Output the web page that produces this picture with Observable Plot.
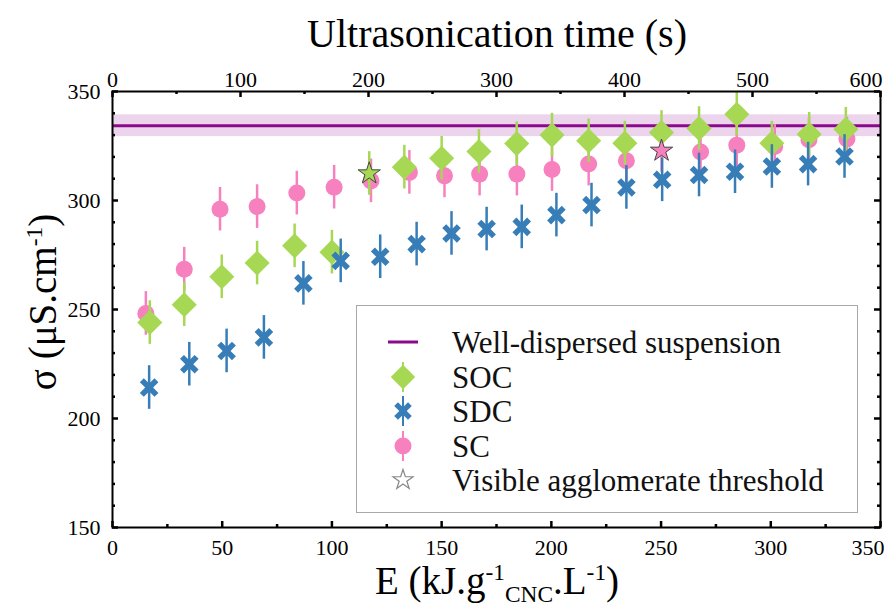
<!DOCTYPE html>
<html><head><meta charset="utf-8">
<script src="https://cdn.jsdelivr.net/npm/d3@7"></script>
<script src="https://cdn.jsdelivr.net/npm/@observablehq/plot@0.6"></script>
<style>
body{margin:0;background:#fff;}
#wrap{position:relative;width:889px;height:607px;font-family:"Liberation Serif","Times New Roman",serif;color:#000;overflow:hidden;}
.lab{position:absolute;white-space:nowrap;font-size:39px;line-height:1;transform:translate(-50%,-50%);}
.lab sup,.lab sub{font-size:0.6em;line-height:0;}
#legend{position:absolute;left:356px;top:305px;width:502px;height:208px;border:1.5px solid #a8a8a8;box-sizing:border-box;}
.ltxt{position:absolute;left:452px;font-size:31px;line-height:1;white-space:nowrap;transform:translateY(-50%);color:#111;}
</style></head>
<body><div id="wrap"></div>
<script>
// ---------- data ----------
const E_SOC = [17.0, 32.7, 49.8, 65.9, 83.0, 100.0, 117.0, 133.0, 150.0, 167.0, 184.2, 200.3, 217.0, 233.5, 250.2, 267.3, 284.5, 300.5, 317.5, 334.2];
const SOC   = [244.0, 252.2, 265.0, 271.3, 279.2, 276.3, 312.4, 315.3, 319.4, 322.5, 326.1, 330.0, 327.4, 326.3, 331.2, 333.0, 339.6, 326.3, 330.4, 332.7];
const ERR_SOC = [10, 10, 10, 10, 10, 10, 10, 10, 10, 10, 10, 10, 10, 10, 10, 10, 10, 10, 10, 10];

const E_SDC = [16.7, 35.0, 52.0, 69.0, 87.0, 104.0, 122.0, 138.6, 154.5, 170.5, 186.5, 202.3, 218.3, 234.2, 250.5, 267.3, 283.7, 300.5, 317.0, 333.6];
const SDC   = [214.2, 224.9, 231.0, 237.2, 262.0, 272.3, 274.2, 280.0, 284.9, 286.9, 287.9, 293.3, 297.9, 306.0, 309.5, 311.7, 313.2, 315.6, 316.7, 320.2];
const ERR_SDC = [10, 10, 10, 10, 10, 10, 10, 10, 10, 10, 10, 10, 10, 10, 10, 10, 10, 10, 10, 10];

const E_SC = [15.2, 32.7, 49.0, 65.9, 84.0, 101.0, 117.8, 135.3, 151.3, 167.3, 184.3, 200.3, 217.0, 234.2, 250.2, 268.0, 284.5, 301.8, 317.4, 334.7];
const SC   = [248.2, 268.5, 296.0, 297.2, 303.4, 306.1, 309.0, 312.9, 311.3, 312.1, 312.1, 314.2, 316.7, 318.2, 322.8, 322.3, 325.4, 324.8, 327.9, 328.2];
const ERR_SC = [10, 10, 10, 10, 10, 10, 10, 10, 10, 10, 10, 10, 10, 10, 10, 10, 10, 10, 10, 10];

// visible agglomerate threshold points
const STAR_SERIES = ["SOC", "SC"];
const STAR_E      = [117.0, 250.2];
const STAR_V      = [312.4, 322.8];

// well-dispersed suspension reference (mean ± sd)
const WELL_MEAN = 334.3;
const WELL_SD = 5.0;

// axes
const X_TICKS = [0, 50, 100, 150, 200, 250, 300, 350];
const Y_TICKS = [150, 200, 250, 300, 350];
const TIME_TICKS = [0, 100, 200, 300, 400, 500, 600];
const TIME_MINOR = [50, 150, 250, 350, 450, 550];
const X_MINOR = [25, 75, 125, 175, 225, 275, 325];
const Y_MINOR = [160,170,180,190,210,220,230,240,260,270,280,290,310,320,330,340];
const X_DOMAIN = [0, 350], Y_DOMAIN = [150, 350], TIME_MAX = 600;

// ---------- style ----------
const COL = {SOC: "#a6d854", SDC: "#377eb8", SC: "#f781bf"};
const PURPLE = "#8b0a8b", BAND = "#ecd4ec";
const W = 889, H = 607, ML = 112, MR = 9, MT = 91, MB = 80;
const PW = W - ML - MR, PH = H - MT - MB;
const toE = t => t * X_DOMAIN[1] / TIME_MAX;
const fmtTime = d => String(Math.round(d * TIME_MAX / X_DOMAIN[1]));

const isStar = (name, e) => STAR_SERIES.some((s, j) => s === name && STAR_E[j] === e);
const rows = (name, E, V, Er) => E.map((e, i) => ({series: name, E: e, v: V[i], err: Er[i], star: isStar(name, e)}));
const socRows = rows("SOC", E_SOC, SOC, ERR_SOC);
const sdcRows = rows("SDC", E_SDC, SDC, ERR_SDC);
const scRows = rows("SC", E_SC, SC, ERR_SC);
const starRows = STAR_SERIES.map((s, j) => ({series: s, E: STAR_E[j], v: STAR_V[j]}));

// filled heavy "X" symbol
const symbolHeavyX = {
  draw(ctx, size) {
    const r = Math.sqrt(size / Math.PI), L = 1.15 * r, a = 0.31 * r;
    const pts = [[a,L],[a,a],[L,a],[L,-a],[a,-a],[a,-L],[-a,-L],[-a,-a],[-L,-a],[-L,a],[-a,a],[-a,L]]
      .map(([x, y]) => [(x - y) / Math.SQRT2, (x + y) / Math.SQRT2]);
    ctx.moveTo(pts[0][0], pts[0][1]);
    for (let i = 1; i < pts.length; i++) ctx.lineTo(pts[i][0], pts[i][1]);
    ctx.closePath();
  }
};

const bars = (data, c) => Plot.ruleX(data, {x: "E", y1: d => d.v - d.err, y2: d => d.v + d.err, stroke: c, strokeWidth: 2.5});

const plot = Plot.plot({
  width: W, height: H,
  marginLeft: ML, marginRight: MR, marginTop: MT, marginBottom: MB,
  x: {domain: X_DOMAIN},
  y: {domain: Y_DOMAIN},
  style: {fontFamily: '"Liberation Serif","Times New Roman",serif', fontSize: "22px", color: "#000", background: "#fff"},
  marks: [
    Plot.rect([{m: WELL_MEAN, s: WELL_SD}], {x1: () => X_DOMAIN[0], x2: () => X_DOMAIN[1], y1: d => d.m - d.s, y2: d => d.m + d.s, fill: BAND}),
    Plot.ruleY([WELL_MEAN], {stroke: PURPLE, strokeWidth: 3}),
    bars(scRows, COL.SC),
    Plot.dot(scRows.filter(d => !d.star), {x: "E", y: "v", r: 8.5, fill: COL.SC, symbol: "circle"}),
    bars(socRows, COL.SOC),
    Plot.dot(socRows.filter(d => !d.star), {x: "E", y: "v", r: 11.3, fill: COL.SOC, symbol: "diamond2"}),
    bars(sdcRows, COL.SDC),
    Plot.dot(sdcRows.filter(d => !d.star), {x: "E", y: "v", r: 9, fill: COL.SDC, symbol: symbolHeavyX}),
    ...["SOC", "SDC", "SC"].map(s => Plot.dot(starRows.filter(d => d.series === s), {x: "E", y: "v", r: 7, symbol: "star", fill: COL[s], stroke: "#444", strokeWidth: 1})),
    // ticks pointing inward
    Plot.tickX(X_TICKS, {x: d => d, insetTop: PH - 6, strokeWidth: 2.5, stroke: "#000"}),
    Plot.tickX(X_MINOR, {x: d => d, insetTop: PH - 3, strokeWidth: 2.5, stroke: "#000"}),
    Plot.tickX(TIME_TICKS.map(toE), {x: d => d, insetBottom: PH - 6, strokeWidth: 2.5, stroke: "#000"}),
    Plot.tickX(TIME_MINOR.map(toE), {x: d => d, insetBottom: PH - 3, strokeWidth: 2.5, stroke: "#000"}),
    Plot.tickY(Y_TICKS, {y: d => d, insetRight: PW - 6, strokeWidth: 2.5, stroke: "#000"}),
    Plot.tickY(Y_MINOR, {y: d => d, insetRight: PW - 3, strokeWidth: 2.5, stroke: "#000"}),
    Plot.tickY(Y_TICKS, {y: d => d, insetLeft: PW - 6, strokeWidth: 2.5, stroke: "#000"}),
    Plot.tickY(Y_MINOR, {y: d => d, insetLeft: PW - 3, strokeWidth: 2.5, stroke: "#000"}),
    Plot.axisX({anchor: "bottom", ticks: X_TICKS.slice(0, -1), tickSize: 0, tickPadding: 12, label: null}),
    Plot.axisX({anchor: "bottom", ticks: X_TICKS.slice(-1), tickSize: 0, tickPadding: 12, label: null, textAnchor: "end", dx: 4}),
    Plot.axisX({anchor: "top", ticks: TIME_TICKS.slice(0, -1).map(toE), tickFormat: fmtTime, tickSize: 0, tickPadding: 5, label: null}),
    Plot.axisX({anchor: "top", ticks: TIME_TICKS.slice(-1).map(toE), tickFormat: fmtTime, tickSize: 0, tickPadding: 5, label: null, textAnchor: "end", dx: 2}),
    Plot.axisY({anchor: "left", ticks: Y_TICKS, tickSize: 0, tickPadding: 12, label: null}),
    Plot.frame({stroke: "#000", strokeWidth: 2})
  ]
});

const wrap = document.getElementById("wrap");
wrap.appendChild(plot);

// axis titles
function addLab(html, x, y, rot, size) {
  const d = document.createElement("div");
  d.className = "lab";
  d.innerHTML = html;
  d.style.left = x + "px"; d.style.top = y + "px";
  if (size) d.style.fontSize = size + "px";
  if (rot) d.style.transform = "translate(-50%,-50%) rotate(-90deg)";
  wrap.appendChild(d);
}
addLab("Ultrasonication time (s)", 497, 34, false, 40);
addLab("E (kJ.g<sup>-1</sup><sub>CNC</sub>.L<sup>-1</sup>)", 497, 580, false, 39);
addLab("σ (μS.cm<sup>-1</sup>)", 42, 302, true, 39);

// legend
const lg = document.createElement("div"); lg.id = "legend"; wrap.appendChild(lg);
const LEG = [
  {label: "Well-dispersed suspension", kind: "line"},
  {label: "SOC", kind: "SOC"},
  {label: "SDC", kind: "SDC"},
  {label: "SC", kind: "SC"},
  {label: "Visible agglomerate threshold", kind: "star"}
];
const rowY = [342, 377, 411, 446, 480];
const icon = d3.select(wrap).append("svg")
  .attr("width", W).attr("height", H)
  .style("position", "absolute").style("left", 0).style("top", 0).style("pointer-events", "none");
const ix = 403;
LEG.forEach((e, i) => {
  const y = rowY[i];
  const t = document.createElement("div");
  t.className = "ltxt"; t.textContent = e.label; t.style.top = y + "px";
  wrap.appendChild(t);
  const g = icon.append("g").attr("transform", `translate(${ix},${y})`);
  if (e.kind === "line") {
    g.append("line").attr("x1", -15).attr("x2", 15).attr("stroke", PURPLE).attr("stroke-width", 3);
  } else if (e.kind === "star") {
    g.append("path").attr("d", d3.symbol(d3.symbolStar, 125)()).attr("fill", "none").attr("stroke", "#888").attr("stroke-width", 1.2);
  } else {
    g.append("line").attr("y1", -15).attr("y2", 15).attr("stroke", COL[e.kind]).attr("stroke-width", 2);
    let p = d3.path();
    if (e.kind === "SOC") d3.symbolDiamond2.draw(p, Math.PI * 11 * 11);
    else if (e.kind === "SDC") symbolHeavyX.draw(p, Math.PI * 8.5 * 8.5);
    else d3.symbolCircle.draw(p, Math.PI * 8.5 * 8.5);
    g.append("path").attr("d", p.toString()).attr("fill", COL[e.kind]);
  }
});
</script></body></html>
